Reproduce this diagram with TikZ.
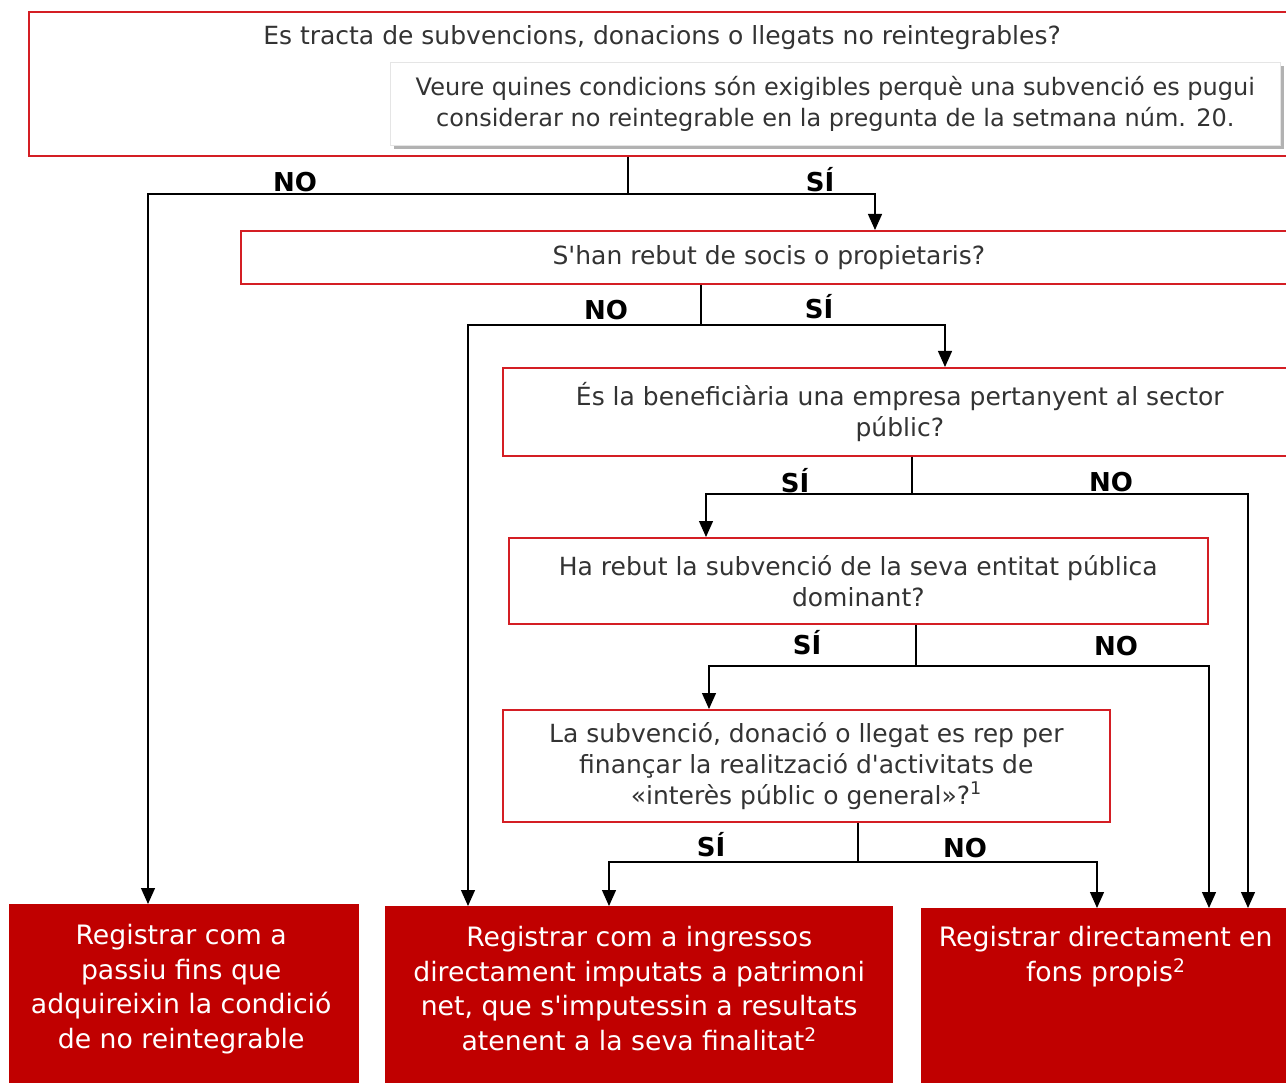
\documentclass[tikz,border=0pt]{standalone}
\usepackage{fontspec}
\setmainfont{DejaVu Sans}[Ligatures=TeXOff]
\usetikzlibrary{arrows.meta,shadows}
\definecolor{boxred}{RGB}{212,30,36}
\definecolor{fillred}{RGB}{192,0,0}
\definecolor{txtgray}{RGB}{51,51,51}
\begin{document}
\begin{tikzpicture}[x=1pt,y=1pt,
  qbox/.style={draw=boxred, line width=1.6pt, fill=white, anchor=north west, inner sep=0pt,
     text=txtgray, align=center, font=\fontsize{25}{30.8}\selectfont},
  notebox/.style={draw=black!10, line width=0.6pt, fill=white, anchor=north west, inner sep=0pt,
     text=txtgray, align=center, font=\fontsize{24}{31}\selectfont,
     drop shadow={shadow xshift=4pt, shadow yshift=-4pt, fill=black, opacity=0.3}},
  rbox/.style={fill=fillred, anchor=north west, inner sep=0pt},
  rtext/.style={anchor=north, text=white, align=center, inner sep=0pt,
     font=\fontsize{26.7}{34.6}\selectfont},
  qtext/.style={text=txtgray, inner sep=0pt, font=\fontsize{25}{30.8}\selectfont},
  lbl/.style={font=\bfseries\fontsize{26}{26}\selectfont, text=black, inner sep=0pt},
  conn/.style={draw=black, line width=1.3pt},
  arr/.style={conn, -{Triangle[length=16pt,width=14pt]}}
]
\useasboundingbox (0,0) rectangle (1286,-1083);

% question boxes
\node[qbox, minimum width=1268, minimum height=144] (Q1) at (28,-11) {};
\node[qtext] (Q1t) at (662,-38) {Es tracta de subvencions, donacions o llegats no reintegrables?};
\node[notebox, minimum width=890, minimum height=83] (N) at (390,-62)
  {Veure quines condicions són exigibles perquè una subvenció es pugui\\considerar no reintegrable en la pregunta de la setmana núm. 20.};
\node[qbox, minimum width=1056, minimum height=53] (Q2) at (240,-230) {S'han rebut de socis o propietaris?};
\node[qbox, minimum width=794, minimum height=88] (Q3) at (502,-367)
  {És la beneficiària una empresa pertanyent al sector\\públic?};
\node[qbox, minimum width=699, minimum height=86] (Q4) at (508,-537)
  {Ha rebut la subvenció de la seva entitat pública\\dominant?};
\node[qbox, minimum width=607, minimum height=112] (Q5) at (502,-709)
  {La subvenció, donació o llegat es rep per\\finançar la realització d'activitats de\\«interès públic o general»?\textsuperscript{1}};

% result boxes
\node[rbox, minimum width=350, minimum height=190] (L) at (9,-904) {};
\node[rbox, minimum width=508, minimum height=190] (M) at (385,-906) {};
\node[rbox, minimum width=375, minimum height=190] (R) at (921,-908) {};
\node[rtext] (Lt) at ([xshift=-3,yshift=-20]L.north)
  {Registrar com a\\passiu fins que\\adquireixin la condició\\de no reintegrable};
\node[rtext] (Mt) at ([yshift=-20]M.north)
  {Registrar com a ingressos\\directament imputats a patrimoni\\net, que s'imputessin a resultats\\atenent a la seva finalitat\textsuperscript{2}};
\node[rtext] (Rt) at ([xshift=-3,yshift=-18]R.north)
  {Registrar directament en\\fons propis\textsuperscript{2}};

% connectors
\coordinate (j1) at (628,-194);
\draw[conn] (j1 |- Q1.south) -- (j1);
\draw[arr] (j1) -| (148,0 |- L.north);
\draw[arr] (j1) -| (875,0 |- Q2.north);

\coordinate (j2) at (701,-325);
\draw[conn] (j2 |- Q2.south) -- (j2);
\draw[arr] (j2) -| (468,0 |- M.north);
\draw[arr] (j2) -| (945,0 |- Q3.north);

\coordinate (j3) at (912,-494);
\draw[conn] (j3 |- Q3.south) -- (j3);
\draw[arr] (j3) -| (706,0 |- Q4.north);
\draw[arr] (j3) -| (1248,0 |- R.north);

\coordinate (j4) at (916,-666);
\draw[conn] (j4 |- Q4.south) -- (j4);
\draw[arr] (j4) -| (709,0 |- Q5.north);
\draw[arr] (j4) -| (1209,0 |- R.north);

\coordinate (j5) at (858,-862);
\draw[conn] (j5 |- Q5.south) -- (j5);
\draw[arr] (j5) -| (609,0 |- M.north);
\draw[arr] (j5) -| (1097,0 |- R.north);

% labels
\node[lbl] (l1) at (295,-182) {NO};
\node[lbl] (l2) at (820,-180) {SÍ};
\node[lbl] (l3) at (606,-310) {NO};
\node[lbl] (l4) at (819,-307) {SÍ};
\node[lbl] (l5) at (795,-481) {SÍ};
\node[lbl] (l6) at (1111,-482) {NO};
\node[lbl] (l7) at (807,-643) {SÍ};
\node[lbl] (l8) at (1116,-646) {NO};
\node[lbl] (l9) at (711,-845) {SÍ};
\node[lbl] (l10) at (965,-848) {NO};
\end{tikzpicture}
\end{document}
